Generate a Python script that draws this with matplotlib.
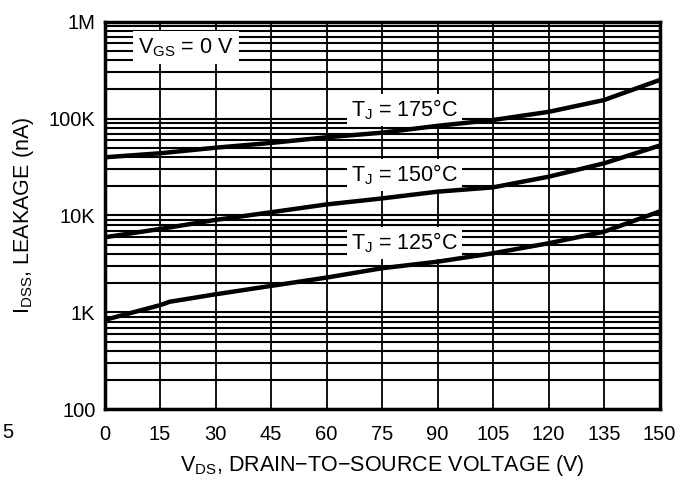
import numpy as np
import matplotlib
matplotlib.use("Agg")
import matplotlib.pyplot as plt
from matplotlib.ticker import FixedLocator, LogLocator, NullFormatter

plt.rcParams['font.family'] = ['Liberation Sans', 'DejaVu Sans']

# drain-source voltage (V) and leakage current (nA) per junction temperature
vds = [0, 15, 30, 45, 60, 75, 90, 105, 120, 135, 150]
idss_175 = [39800, 43800, 50000, 56000, 64000, 71400, 84000, 96500, 117000, 155000, 249000]
idss_150 = [5960, 7260, 9000, 10800, 13000, 15000, 17600, 19500, 25100, 34500, 52500]
vds_125 = [0, 15, 17.6, 30, 45, 60, 75, 90, 105, 120, 135, 150]
idss_125 = [837, 1190, 1290, 1540, 1880, 2290, 2860, 3340, 4080, 5170, 6800, 11000]

xticks = [0, 15, 30, 45, 60, 75, 90, 105, 120, 135, 150]
yticks = [100, 1e3, 1e4, 1e5, 1e6]
ytick_labels = ['100', '1K', '10K', '100K', '1M']

curve_labels = [r'T$_\mathregular{J}$ = 175°C', r'T$_\mathregular{J}$ = 150°C', r'T$_\mathregular{J}$ = 125°C']
label_y = [122000, 26200, 5200]

fig = plt.figure(figsize=(6.89, 4.8), dpi=100)
ax = fig.add_axes([0.1517, 0.1469, 0.8055, 0.8083])

ax.plot(vds, idss_175, color='black', lw=3.2, zorder=4, solid_capstyle='butt')
ax.plot(vds, idss_150, color='black', lw=3.2, zorder=4, solid_capstyle='butt')
ax.plot(vds_125, idss_125, color='black', lw=3.2, zorder=4, solid_capstyle='butt')

ax.set_yscale('log')
ax.set_xlim(0, 150)
ax.set_ylim(100, 1e6)
ax.xaxis.set_major_locator(FixedLocator(xticks))
ax.yaxis.set_major_locator(FixedLocator(yticks))
ax.set_yticklabels(ytick_labels)
ax.yaxis.set_minor_locator(LogLocator(base=10, subs=range(2, 10)))
ax.yaxis.set_minor_formatter(NullFormatter())

ax.grid(True, which='both', axis='y', color='black', lw=1.5, zorder=1)
ax.grid(True, which='major', axis='x', color='black', lw=1.3, zorder=1)
ax.set_axisbelow(True)

ax.tick_params(which='both', length=0, labelsize=14.5)
ax.tick_params(axis='x', pad=11)
ax.tick_params(axis='y', pad=6.5)
for sp in ax.spines.values():
    sp.set_linewidth(2.5)
    sp.set_zorder(5)

box = dict(facecolor='white', edgecolor='none', pad=2.5)
for txt, yv in zip(curve_labels, label_y):
    ax.text(66.6, yv, txt, fontsize=15.5, ha='left', va='center', bbox=box, zorder=3)

ax.text(9.1, 540000, r'V$_\mathregular{GS}$ = 0 V', fontsize=15.5, ha='left', va='center',
        bbox=dict(facecolor='white', edgecolor='none', pad=3.5), zorder=3)

ax.set_xlabel('V$_\\mathregular{DS}$, DRAIN\u2212TO\u2212SOURCE VOLTAGE (V)', fontsize=15.5, labelpad=7)
ax.set_ylabel('I$_\\mathregular{DSS}$, LEAKAGE (nA)', fontsize=15.5, labelpad=9)

fig.text(0.003, 0.099, '5', fontsize=14.5, ha='left', va='center')

fig.savefig('out.png', dpi=100)
